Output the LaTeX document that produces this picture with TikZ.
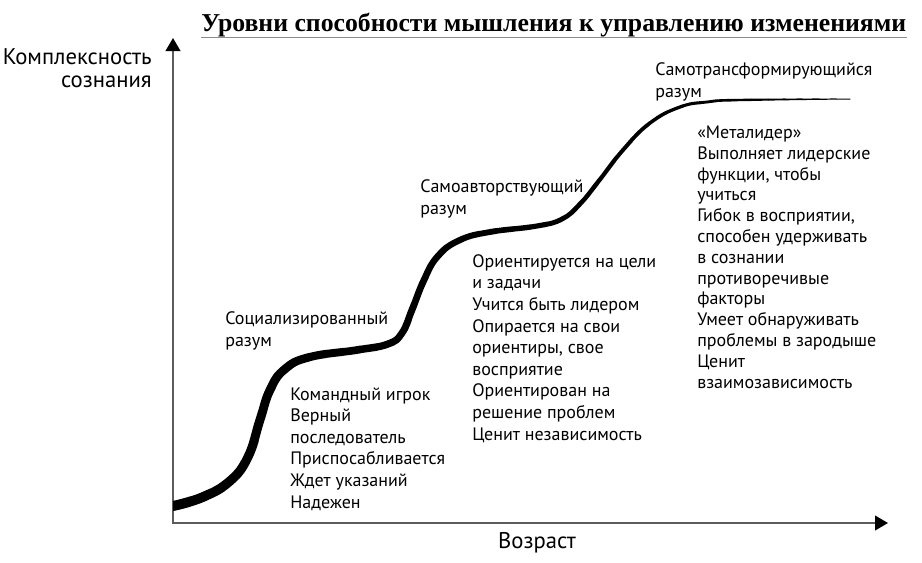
\documentclass[tikz,border=0pt]{standalone}
\usepackage{fontspec}
\setmainfont{PT Sans}
\newfontfamily\titlefont{Liberation Serif}
\usetikzlibrary{arrows.meta}

\definecolor{axGray}{HTML}{5C5C5C}
\definecolor{ulGray}{HTML}{8C8C8C}

\newcommand\stagecurve{plot[smooth,tension=0.75] coordinates {
  (173,506) (203,497) (230,481) (248,457) (260,420) (270,390) (285,369)
  (310,357) (357,350) (388,344) (402,333) (412,310) (424,280) (438,256)
  (460,240) (490,232) (537,226) (562,219) (580,204) (598,182) (623,150)
  (650,123) (680,107) (707,102) (740,100) (850,99)}}

\begin{document}
\begin{tikzpicture}[x=0.75pt,y=-0.75pt,
  font=\fontsize{13.5}{16.2}\selectfont,
  axis/.style={line width=1.5pt,draw=axGray,-{Triangle[length=9.75pt,width=11pt,color=black]}},
  txt/.style={anchor=base west,inner sep=0pt,align=left},
  axlabel/.style={inner sep=0pt,font=\fontsize{17}{17.25}\selectfont},
  heading/.style={anchor=base west,inner sep=0pt,font=\titlefont\bfseries\fontsize{19.3}{21}\selectfont},
]
\useasboundingbox (0,0) rectangle (922,562);

% axes
\coordinate (origin) at (173,523);
\coordinate (ytip)   at (173,38);
\coordinate (xtip)   at (888,523);
\draw[axis] (origin) -- (ytip);
\draw[axis] ([xshift=-0.75pt]origin) -- (xtip);

% heading
\node[heading] (title) at (201,31) {Уровни способности мышления к управлению изменениями};
\draw[ulGray,line width=0.6pt] ([yshift=-4.5pt]title.base west) -- ([yshift=-4.5pt]title.base east);

% axis labels (base = last line)
\node[axlabel,anchor=base east,align=right] (ylabel) at (152,87) {Комплексность\\сознания};
\node[axlabel,anchor=base] (xlabel) at (537,548) {Возраст};

% stage curve, thinning out to the right
\foreach \i in {0,...,39}{
  \pgfmathsetmacro\xa{173+\i*17}
  \pgfmathsetmacro\w{(10-9*\i/39)*0.75}
  \begin{scope}
    \clip (\xa,0) rectangle (\xa+17.3,562);
    \draw[line width=\w pt,line cap=round] \stagecurve;
  \end{scope}
}

% stage names
\node[txt] (social)  at (225,346) {Социализированный\\разум};
\node[txt] (author)  at (420,214) {Самоавторствующий\\разум};
\node[txt] (transf)  at (655,97)  {Самотрансформирующийся\\разум};

% stage traits
\node[txt] (socialT) at (290,508) {Командный игрок\\Верный\\последователь\\Приспосабливается\\Ждет указаний\\Надежен};
\node[txt] (authorT) at (472,440) {Ориентируется на цели\\и задачи\\Учится быть лидером\\Опирается на свои\\ориентиры, свое\\восприятие\\Ориентирован на\\решение проблем\\Ценит независимость};
\node[txt,font=\fontsize{13.5}{15.6}\selectfont] (transfT) at (697,388) {«Металидер»\\Выполняет лидерские\\функции, чтобы\\учиться\\Гибок в восприятии,\\способен удерживать\\в сознании\\противоречивые\\факторы\\Умеет обнаруживать\\проблемы в зародыше\\Ценит\\взаимозависимость};
\end{tikzpicture}
\end{document}
